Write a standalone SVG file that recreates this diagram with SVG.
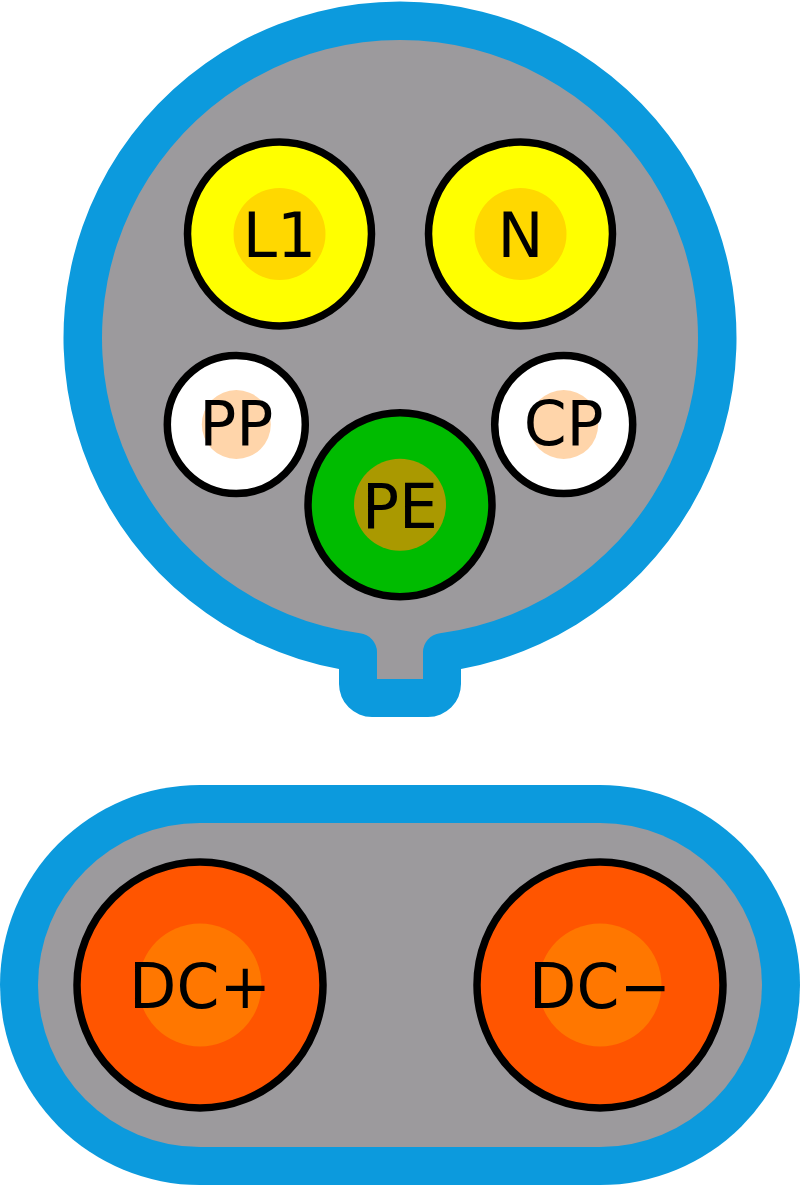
<svg xmlns="http://www.w3.org/2000/svg" width="800" height="1185" viewBox="0 0 800 1185">
<style>
.edge{fill:#0c9add}
.core{fill:#9c9a9d}
.pin{stroke:#000;stroke-width:7.5}
.t{font-family:"DejaVu Sans",sans-serif;font-size:61.500px;text-anchor:middle;fill:#000}
.y{fill:#ffff00}.yc{fill:#ffd800}
.w{fill:#fff}.wc{fill:#ffd5aa}
.g{fill:#00bb00}.gc{fill:#aa9900}
.o{fill:#ff5500}.oc{fill:#ff7700}
</style>
<g id="ac-shell">
<path class="edge" d="M339 668.900A336.500 336.500 0 1 1 461 668.900V684A33 33 0 0 1 428 717H372A33 33 0 0 1 339 684Z"/>
<path class="core" d="M377 679V652A19 19 0 0 0 360 633.300A298 298 0 1 1 440 633.300A19 19 0 0 0 423 652V679Z"/>
</g>
<g id="dc-shell">
<rect class="edge" x="0" y="785" width="800" height="400" rx="200" ry="200"/>
<rect class="core" x="38" y="823" width="724" height="324" rx="162" ry="162"/>
</g>
<g id="L1"><circle class="pin y" cx="279.500" cy="234" r="92"/><circle class="yc" cx="279.500" cy="234" r="46"/><text class="t" x="279.500" y="257">L1</text></g>
<g id="N"><circle class="pin y" cx="520.500" cy="234" r="92"/><circle class="yc" cx="520.500" cy="234" r="46"/><text class="t" x="520.500" y="257">N</text></g>
<g id="PP"><circle class="pin w" cx="236.300" cy="424.500" r="69"/><circle class="wc" cx="236.300" cy="424.500" r="34.500"/><text class="t" x="236.300" y="445">PP</text></g>
<g id="CP"><circle class="pin w" cx="563.700" cy="424.500" r="69"/><circle class="wc" cx="563.700" cy="424.500" r="34.500"/><text class="t" x="563.700" y="445">CP</text></g>
<g id="PE"><circle class="pin g" cx="400" cy="504.700" r="92"/><circle class="gc" cx="400" cy="504.700" r="46"/><text class="t" x="400" y="528">PE</text></g>
<g id="DCp"><circle class="pin o" cx="200" cy="985" r="123"/><circle class="oc" cx="200" cy="985" r="61.500"/><text class="t" x="200" y="1007.500">DC+</text></g>
<g id="DCm"><circle class="pin o" cx="600" cy="985" r="123"/><circle class="oc" cx="600" cy="985" r="61.500"/><text class="t" x="600" y="1007.500">DC−</text></g>
<g id="connectors"/>
</svg>
